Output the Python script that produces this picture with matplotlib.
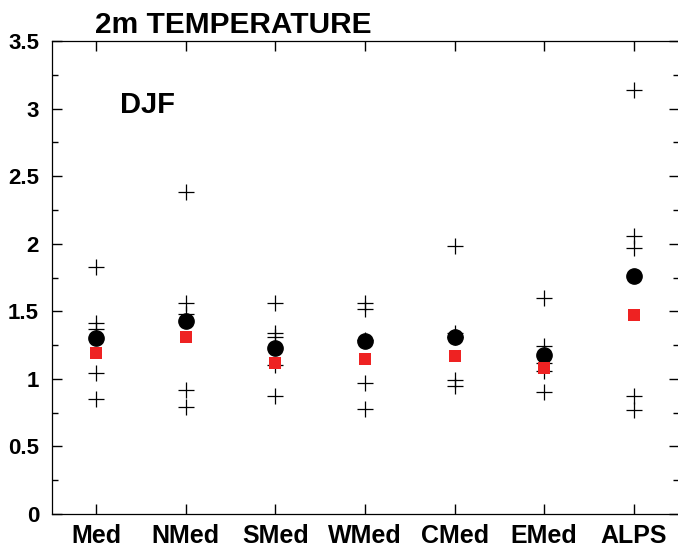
"""DJF 2m temperature scores per region: members, ensemble mean and reference."""

import matplotlib
matplotlib.use("Agg")
import matplotlib.pyplot as plt
from matplotlib.ticker import MultipleLocator

plt.rcParams["font.family"] = ["Liberation Sans", "DejaVu Sans"]
plt.rcParams["font.weight"] = "bold"

REGIONS = ["Med", "NMed", "SMed", "WMed", "CMed", "EMed", "ALPS"]

# Individual members (crosses), one list per region.
MEMBERS = [
    [1.83, 1.41, 1.37, 1.04, 0.85],
    [2.38, 1.56, 1.48, 0.92, 0.79],
    [1.56, 1.34, 1.31, 1.10, 0.87],
    [1.56, 1.52, 1.29, 0.97, 0.78],
    [1.98, 1.34, 1.31, 0.99, 0.95],
    [1.60, 1.24, 1.12, 1.06, 0.90],
    [3.14, 2.06, 1.97, 0.87, 0.77],
]
# Black dots and red squares.
MEAN_VALUES = [1.30, 1.43, 1.23, 1.28, 1.31, 1.18, 1.76]
ENSEMBLE_VALUES = [1.19, 1.31, 1.12, 1.15, 1.17, 1.08, 1.47]

Y_TICKS = [0, 0.5, 1, 1.5, 2, 2.5, 3, 3.5]
Y_TICK_LABELS = ["0", "0.5", "1", "1.5", "2", "2.5", "3", "3.5"]


def main():
    fig = plt.figure(figsize=(6.78, 5.5), dpi=100)
    ax = fig.add_axes([51.5 / 678, 1 - 514 / 550, 627 / 678, 473 / 550])

    positions = list(range(1, len(REGIONS) + 1))

    for pos, members in zip(positions, MEMBERS):
        ax.plot([pos] * len(members), members, linestyle="none", marker="+",
                markersize=11, markeredgewidth=0.9, color="black",
                clip_on=False)
    ax.plot(positions, MEAN_VALUES, linestyle="none", marker="o",
            markersize=11, color="black", zorder=3)
    ax.plot(positions, ENSEMBLE_VALUES, linestyle="none", marker="s",
            markersize=8.5, color="#ee2222", markeredgewidth=0, zorder=4)

    ax.set_xlim(0.5, len(REGIONS) + 0.5)
    ax.set_ylim(0, 3.5)
    ax.set_xticks(positions)
    ax.set_xticklabels(REGIONS, fontsize=18, fontweight="bold")
    ax.yaxis.set_minor_locator(MultipleLocator(0.25))
    ax.set_yticks(Y_TICKS)
    ax.set_yticklabels(Y_TICK_LABELS, fontsize=16, fontweight="bold")
    ax.tick_params(axis="both", which="major", direction="in", length=7.5,
                   width=1, top=True, right=True)
    ax.tick_params(axis="y", which="minor", direction="in", length=4,
                   width=1, right=True)
    ax.tick_params(axis="x", which="major", pad=7)
    ax.tick_params(axis="y", which="major", pad=9)
    for spine in ax.spines.values():
        spine.set_linewidth(0.9)

    fig.text(95 / 678, 1 - 33 / 550, "2m TEMPERATURE", fontsize=21.5,
             fontweight="bold", ha="left", va="baseline")
    ax.text(120 / 678, 1 - 113 / 550, "DJF", transform=fig.transFigure,
            fontsize=21, fontweight="bold", ha="left", va="baseline")

    fig.savefig("out.png", dpi=100)


if __name__ == "__main__":
    main()
